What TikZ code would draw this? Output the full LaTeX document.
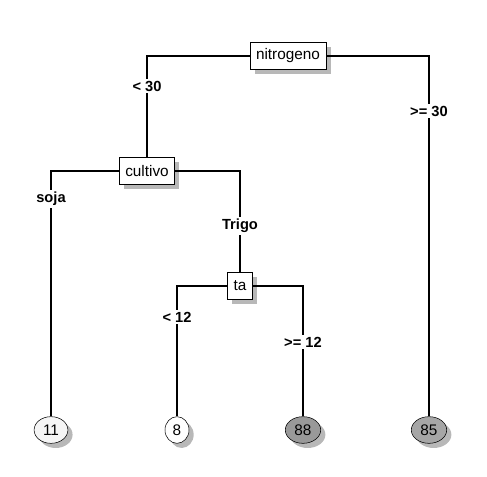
\documentclass[tikz,border=0pt]{standalone}
\usepackage{fontspec}
\setmainfont{Liberation Sans}
\usetikzlibrary{shapes.geometric}
\usetikzlibrary{shadows}

\begin{document}
\begin{tikzpicture}[x=0.75pt,y=-0.75pt]
	\tikzstyle{split}=[rectangle,draw,fill=white,minimum height=20pt,inner xsep=4.5pt,font=\fontsize{11.5}{13}\selectfont,drop shadow={shadow xshift=3.5pt,shadow yshift=-3.5pt,fill=black!35,opacity=0.8}]
	\tikzstyle{feuille}=[ellipse,draw,minimum width=18pt,minimum height=20pt,inner xsep=3pt,inner ysep=2pt,font=\fontsize{11.5}{13}\selectfont,drop shadow={shadow xshift=3.5pt,shadow yshift=-3.5pt,fill=black!35,opacity=0.8}]
	\tikzstyle{branche}=[fill=white,inner sep=1.5pt,font=\fontsize{11}{13}\selectfont\bfseries]
	\tikzstyle{lien}=[line width=0.8pt]
	\useasboundingbox (0,0) rectangle (487,477);
	\node[split] (nitro) at (288,56){nitrogeno};
	\node[split] (cult) at (147,171){cultivo};
	\node[split] (ta) at (240,286){ta};
	\node[feuille,fill=black!4] (f11) at (51,430){11};
	\node[feuille,fill=white] (f8) at (177,430){8};
	\node[feuille,fill=black!40] (f88) at (303,430){88};
	\node[feuille,fill=black!35] (f85) at (429,430){85};
	\draw[lien] (nitro) -| (cult);
	\draw[lien] (nitro) -| (f85);
	\draw[lien] (cult) -| (f11);
	\draw[lien] (cult) -| (ta);
	\draw[lien] (ta) -| (f8);
	\draw[lien] (ta) -| (f88);
	\node[branche] (b1) at (147,86){< 30};
	\node[branche] (b2) at (429,111){>= 30};
	\node[branche] (b3) at (51,199){soja};
	\node[branche] (b4) at (240,226){Trigo};
	\node[branche] (b5) at (177,317){< 12};
	\node[branche] (b6) at (303,342){>= 12};
\end{tikzpicture}
\end{document}
